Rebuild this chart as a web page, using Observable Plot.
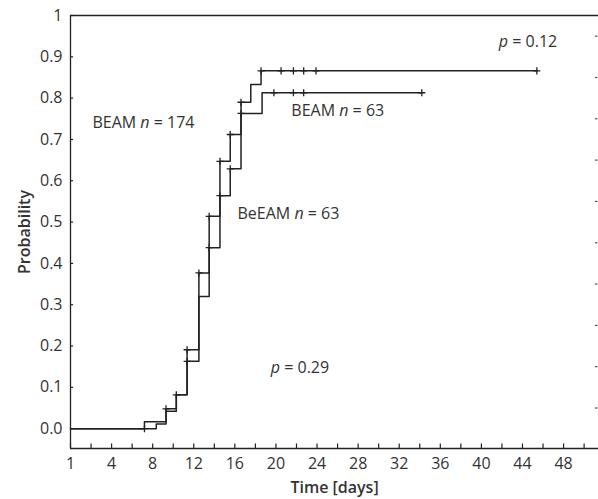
<!DOCTYPE html>
<html><head><meta charset="utf-8">
<script src="https://cdn.jsdelivr.net/npm/d3@7"></script>
<script src="https://cdn.jsdelivr.net/npm/@observablehq/plot@0.6"></script>
<style>
body{margin:0;background:#fff}
#chart svg{font-family:"Open Sans",sans-serif;}
</style></head><body><div id="chart"></div>
<script>
// Step curve 1 (upper)
const upperTime = [0, 7.2, 9.3, 10.3, 11.35, 12.5, 13.5, 14.55, 15.55, 16.6, 17.55, 18.55, 45.4];
const upperProb = [0, 0.017, 0.048, 0.082, 0.191, 0.377, 0.514, 0.647, 0.712, 0.79, 0.833, 0.866, 0.866];
// Step curve 2 (lower)
const lowerTime = [0, 8.35, 9.3, 10.3, 11.35, 12.5, 13.5, 14.55, 15.55, 16.6, 18.65, 34.2];
const lowerProb = [0, 0.011, 0.042, 0.082, 0.163, 0.32, 0.438, 0.564, 0.629, 0.763, 0.813, 0.813];
// "+" marks
const upperMarkTime = [7.2, 9.3, 10.3, 11.35, 12.5, 13.5, 14.55, 15.55, 16.6, 18.55, 20.5, 21.7, 22.7, 23.9, 45.4];
const upperMarkProb = [0, 0.048, 0.082, 0.191, 0.377, 0.514, 0.647, 0.712, 0.79, 0.866, 0.866, 0.866, 0.866, 0.866, 0.866];
const lowerMarkTime = [11.35, 13.5, 14.55, 15.55, 16.6, 19.8, 21.7, 22.7, 34.2];
const lowerMarkProb = [0.163, 0.438, 0.564, 0.629, 0.763, 0.813, 0.813, 0.813, 0.813];
// Annotations
const labelText = ["BEAM n = 174", "BEAM n = 63", "BeEAM n = 63", "p = 0.12", "p = 0.29"];
const labelTime = [2.14, 21.5, 16.26, 41.7, 19.5];
const labelProb = [0.741, 0.768, 0.521, 0.935, 0.146];
// Axes
const xTicks = d3.range(0, 51, 2);
const xLabelTicks = [0, 4, 8, 12, 16, 20, 24, 28, 32, 36, 40, 44, 48];
const xTickText = ["1", "4", "8", "12", "16", "20", "24", "28", "32", "36", "40", "44", "48"];
const yTicks = [0, 0.1, 0.2, 0.3, 0.4, 0.5, 0.6, 0.7, 0.8, 0.9, 1];
const yTickText = ["0.0", "0.1", "0.2", "0.3", "0.4", "0.5", "0.6", "0.7", "0.8", "0.9", "1"];
const rightTicks = [0.05, 0.15, 0.25, 0.35, 0.45, 0.55, 0.65, 0.75, 0.85, 0.95];

const xMin = 0, xMax = 51.4, yMin = -0.048, yMax = 1;
const toRows = (t, p) => t.map((d, i) => ({t: d, p: p[i]}));
const upper = toRows(upperTime, upperProb);
const lower = toRows(lowerTime, lowerProb);
const marks = toRows(upperMarkTime, upperMarkProb).concat(toRows(lowerMarkTime, lowerMarkProb));
const labels = labelText.map((s, i) => ({s, t: labelTime[i], p: labelProb[i]}));
const ink = "#222";
const txt = "#333";
const fs = 16;

const chart = Plot.plot({
  width: 598, height: 499,
  marginLeft: 70, marginRight: 0, marginTop: 15, marginBottom: 51,
  style: {fontSize: fs + "px", fontFamily: "Open Sans, sans-serif", color: txt, background: "#fff"},
  x: {domain: [xMin, xMax]},
  y: {domain: [yMin, yMax]},
  marks: [
    Plot.ruleX([xMin], {stroke: ink, strokeWidth: 1.3}),
    Plot.ruleY([yMin, yMax], {stroke: ink, strokeWidth: 1.3}),
    Plot.ruleX(xTicks, {x: d => d, y1: yMin, y2: yMin + 0.011, stroke: ink, strokeWidth: 1.2}),
    Plot.ruleY(yTicks, {y: d => d, x1: xMin, x2: xMin + 0.3, stroke: ink, strokeWidth: 1.2}),
    Plot.ruleY(rightTicks, {y: d => d, x1: xMax - 0.3, x2: xMax - 0.05, stroke: "#555", strokeWidth: 1.2}),
    Plot.axisX(xLabelTicks, {tickSize: 0, tickPadding: 9, tickFormat: (d) => xTickText[xLabelTicks.indexOf(d)], label: "Time [days]", labelArrow: "none", labelAnchor: "center", labelOffset: 44, fontSize: fs, fill: txt}),
    Plot.axisY(yTicks, {tickSize: 0, tickPadding: 8, tickFormat: d => yTickText[yTicks.indexOf(d)], label: "Probability", labelArrow: "none", labelAnchor: "center", labelOffset: 52, fontSize: fs, fill: txt}),
    Plot.line(upper, {x: "t", y: "p", curve: "step-after", stroke: ink, strokeWidth: 1.5}),
    Plot.line(lower, {x: "t", y: "p", curve: "step-after", stroke: ink, strokeWidth: 1.5}),
    Plot.dot(marks, {x: "t", y: "p", symbol: "plus", r: 2.4, stroke: ink, strokeWidth: 1.3}),
    Plot.text(labels, {x: "t", y: "p", text: "s", textAnchor: "start", fontSize: fs, fill: txt})
  ]
});
document.getElementById("chart").appendChild(chart);
const svg = d3.select(chart);
svg.selectAll('[aria-label="x-axis label"] text, [aria-label="y-axis label"] text')
  .attr("font-weight", 600).attr("fill", txt)
  .each(function() { this.textContent = this.textContent.replace(/[↑→←↓]/g, "").trim(); });
svg.selectAll('g[aria-label="text"] text').each(function() {
  const s = this.textContent;
  const el = d3.select(this);
  el.text(null);
  s.split(/(\b[np]\b)/).forEach(part => {
    if (!part) return;
    const ts = el.append("tspan").text(part);
    if (part === "n" || part === "p") ts.attr("font-style", "italic");
  });
});
</script></body></html>
